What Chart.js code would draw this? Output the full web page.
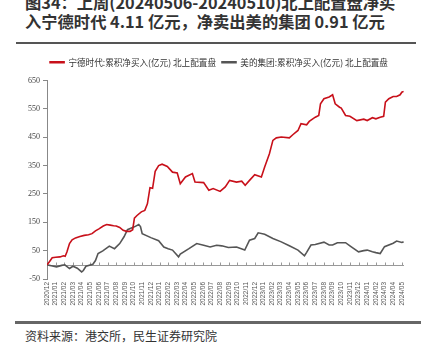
<!DOCTYPE html>
<html><head><meta charset="utf-8">
<script src="https://cdn.jsdelivr.net/npm/chart.js@4.4.1/dist/chart.umd.min.js"></script>
<style>
html,body{margin:0;padding:0;background:#fff;width:428px;height:357px;overflow:hidden;position:relative;font-family:"Noto Sans CJK SC","Noto Sans",sans-serif;}
#title{position:absolute;left:25px;top:-7px;font-size:16.3px;font-weight:bold;line-height:19px;color:#333;white-space:nowrap;}
#rule1{position:absolute;left:16px;top:42px;width:400px;height:2px;background:#555;}
#rule2{position:absolute;left:15px;top:321px;width:406px;height:3px;background:#666;}
#foot{position:absolute;left:25px;top:327px;font-size:12px;color:#333;white-space:nowrap;}
#wrap{position:absolute;left:0;top:48px;width:428px;height:272px;}
</style></head><body>
<div id="title">图34：上周(20240506-20240510)北上配置盘净买<br>入宁德时代 4.11 亿元，净卖出美的集团 0.91 亿元</div>
<div id="rule1"></div>
<div id="wrap"><canvas id="c" width="428" height="272"></canvas></div>
<div id="rule2"></div>
<div id="foot">资料来源：港交所，民生证券研究院</div>
<script>
const months = ["2020/12","2021/01","2021/02","2021/03","2021/04","2021/05","2021/06","2021/07","2021/08","2021/09","2021/10","2021/11","2021/12","2022/01","2022/02","2022/03","2022/04","2022/05","2022/06","2022/07","2022/08","2022/09","2022/10","2022/11","2022/12","2023/01","2023/02","2023/03","2023/04","2023/05","2023/06","2023/07","2023/08","2023/09","2023/10","2023/11","2023/12","2024/01","2024/02","2024/03","2024/04","2024/05"];
const yTicks = [-50,50,150,250,350,450,550,650];

const catlX = [0,0.3,0.6,1.0,1.5,1.9,2.1,2.3,2.6,2.9,3.3,3.8,4.3,4.8,5.2,5.6,6.0,6.5,6.9,7.3,7.7,8.0,8.4,8.8,9.2,9.6,9.9,10.1,10.4,10.9,11.3,11.6,11.9,12.2,12.5,12.9,13.3,13.9,14.5,15.05,15.4,16.0,16.8,17.1,18.1,18.7,19.2,20.0,20.6,21.1,21.9,22.5,22.9,23.4,24.0,24.77,25.15,25.7,26.1,26.5,27.07,28.0,28.4,29.0,29.35,30.0,30.3,31.0,31.4,31.6,32.0,32.6,33.0,33.3,33.8,34.0,34.5,35.0,35.8,36.6,37.0,37.6,38.0,38.5,38.9,39.1,39.5,40.0,40.4,40.8,41.0,41.2];
const catlY = [0,12,25,27,28,32,30,45,75,88,95,100,104,106,110,120,127,137,142,140,138,137,132,122,118,118,124,165,174,187,192,215,272,270,330,350,355,347,327,324,286,310,322,292,290,263,269,259,275,298,292,295,281,298,318,310,345,392,439,448,451,448,459,474,498,494,506,521,527,568,586,592,600,568,556,553,527,524,509,514,509,519,515,521,524,574,586,594,594,600,609,612];

const mideaX = [0,0.5,1.1,1.7,2.06,2.6,3.0,3.5,4.0,4.2,4.5,5.3,5.6,5.9,6.45,7.2,7.8,8.4,8.9,9.3,10.1,10.6,10.8,11.0,12.0,12.9,13.5,14.0,14.5,15.2,15.4,16.4,17.3,18.1,18.85,19.6,20.2,20.95,21.9,22.85,23.4,24.0,24.4,25.15,26.1,27.07,28.0,29.0,29.75,30.0,30.5,31.0,32.0,32.6,33.0,33.55,34.0,34.5,35.0,36.0,36.6,37.0,37.6,38.0,38.5,39.0,40.0,40.4,41.0,41.2];
const mideaY = [0,-3,-7,-2,0,-13,-5,-12,-25,-20,-5,2,15,40,49,66,57,75,99,124,134,142,135,110,96,85,63,57,52,28,38,57,75,69,63,69,67,61,63,52,87,93,113,108,93,81,67,52,32,44,70,72,80,70,70,78,78,78,67,46,50,52,46,43,40,64,76,84,79,81];

const seriesNames = ["宁德时代:累积净买入(亿元) 北上配置盘","美的集团:累积净买入(亿元) 北上配置盘"];
const toPts = (xs, ys) => xs.map((x,i)=>({x:x,y:ys[i]}));

const zeroLine = {
  id:'zeroLine',
  beforeDatasetsDraw(chart){
    const {ctx, scales:{x,y}} = chart;
    const py = Math.round(y.getPixelForValue(0)) + 0.5;
    ctx.save();
    ctx.strokeStyle = '#999';
    ctx.lineWidth = 1;
    ctx.beginPath();
    ctx.moveTo(x.left, py); ctx.lineTo(x.right, py);
    for (let i = 1; i < months.length; i++) {
      const px = Math.round(x.getPixelForValue(i)) + 0.5;
      ctx.moveTo(px, py); ctx.lineTo(px, py - 3);
    }
    ctx.stroke();
    ctx.restore();
  }
};
const legendTweak = {
  id:'legendTweak',
  beforeInit(chart){
    const lg = chart.legend;
    if (lg) {
      const orig = lg.fit;
      lg.fit = function(){ orig.call(this); this.height += 4; };
    }
  },
  afterLayout(chart){
    const lg = chart.legend;
    if (lg) { lg.left += 17; lg.right += 17; }
  }
};

new Chart(document.getElementById('c'), {
  type:'line',
  data:{datasets:[
    {label:seriesNames[0], data:toPts(catlX,catlY), borderColor:'#C8101A', backgroundColor:'#C8101A', borderWidth:1.6, pointRadius:0, tension:0},
    {label:seriesNames[1], data:toPts(mideaX,mideaY), borderColor:'#555555', backgroundColor:'#555555', borderWidth:1.6, pointRadius:0, tension:0}
  ]},
  options:{
    responsive:false, animation:false, devicePixelRatio:1,
    layout:{padding:{left:0,right:24,top:4,bottom:0}},
    plugins:{
      legend:{display:true, position:'top', labels:{boxWidth:14, boxHeight:1, padding:6, color:'#333', font:{family:'"Noto Sans CJK SC"', size:8.6}}},
      tooltip:{enabled:false}
    },
    scales:{
      x:{type:'linear', min:0, max:41.25,
         afterFit(s){ s.height = 41; },
         afterBuildTicks(s){ s.ticks = months.map((m,i)=>({value:i})); },
         grid:{display:false, drawTicks:false}, border:{display:false},
         ticks:{autoSkip:false, maxRotation:90, minRotation:90, padding:3, color:'#555', font:{family:'"Liberation Sans"', size:6.5},
           callback:(v)=> Number.isInteger(v) && months[v] ? months[v] : ''}},
      y:{min:-50, max:650,
         afterFit(s){ s.width = 47; },
         afterBuildTicks(s){ s.ticks = yTicks.map(v=>({value:v})); },
         grid:{display:true, drawOnChartArea:false, drawTicks:true, tickLength:4, color:'#888'},
         border:{display:true, color:'#888', width:1},
         ticks:{padding:3, color:'#444', font:{family:'"Liberation Serif"', size:8}}}
    }
  },
  plugins:[zeroLine, legendTweak]
});
</script>
</body></html>
